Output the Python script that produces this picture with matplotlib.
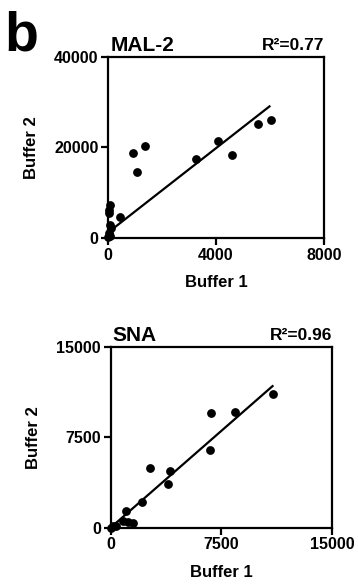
import matplotlib
matplotlib.use("Agg")
import matplotlib.pyplot as plt
import numpy as np

plt.rcParams['font.family'] = ['Liberation Sans', 'DejaVu Sans']
plt.rcParams['font.weight'] = 'bold'

# MAL-2 data
mal_x = [6040, 5545, 4060, 4580, 3256, 940, 1374, 1052, 446,
         60, 20, 30, 80, 120, 40, 10, 60]
mal_y = [26100, 25160, 21400, 18390, 17440, 18830, 20240, 14570, 4560,
         7350, 6250, 5520, 2940, 2200, 1100, 220, 500]
mal_fit = (4.65, 1240, 0, 5980)   # slope, intercept, x start, x end
mal_r2 = "R²=0.77"

# SNA data
sna_x = [10977, 8430, 6818, 6770, 4043, 3886, 2680, 2114, 1043,
         860, 1200, 1500, 136, 361, 0]
sna_y = [11058, 9583, 9475, 6417, 4667, 3611, 4945, 2167, 1417,
         580, 500, 417, 139, 167, 0]
sna_fit = (1.07, 0, 0, 10977)
sna_r2 = "R²=0.96"

fig = plt.figure(figsize=(3.58, 5.85), dpi=100)


def panel(rect, x, y, fit, r2, title, lim, ticks):
    ax = fig.add_axes(rect)
    ax.scatter(x, y, s=28, color='black', zorder=3, clip_on=False)
    slope, icpt, x0, x1 = fit
    xx = np.array([x0, x1])
    ax.plot(xx, slope * xx + icpt, color='black', lw=1.6)
    ax.set_xlim(0, lim[0])
    ax.set_ylim(0, lim[1])
    ax.set_xticks(ticks[0])
    ax.set_yticks(ticks[1])
    for s in ax.spines.values():
        s.set_linewidth(1.6)
    ax.tick_params(direction='out', length=5, width=1.6, labelsize=11.5, pad=2)
    for lab in ax.get_xticklabels() + ax.get_yticklabels():
        lab.set_fontweight('bold')
    ax.set_xlabel('Buffer 1', fontsize=12, fontweight='bold', labelpad=9)
    ax.set_ylabel('Buffer 2', fontsize=12, fontweight='bold', labelpad=11)
    ax.text(0.01, 1.01, title, transform=ax.transAxes, fontsize=15,
            fontweight='bold', ha='left', va='bottom')
    ax.text(1.0, 1.02, r2, transform=ax.transAxes, fontsize=12.5,
            fontweight='bold', ha='right', va='bottom')
    return ax


panel([0.302, 0.593, 0.603, 0.310], mal_x, mal_y, mal_fit, mal_r2, 'MAL-2',
      (8000, 40000), ([0, 4000, 8000], [0, 20000, 40000]))
panel([0.309, 0.098, 0.618, 0.309], sna_x, sna_y, sna_fit, sna_r2, 'SNA',
      (15000, 15000), ([0, 7500, 15000], [0, 7500, 15000]))

fig.text(0.012, 0.9145, 'b', fontsize=40, fontweight='bold', ha='left',
         va='baseline')

fig.savefig('out.png', dpi=100)
